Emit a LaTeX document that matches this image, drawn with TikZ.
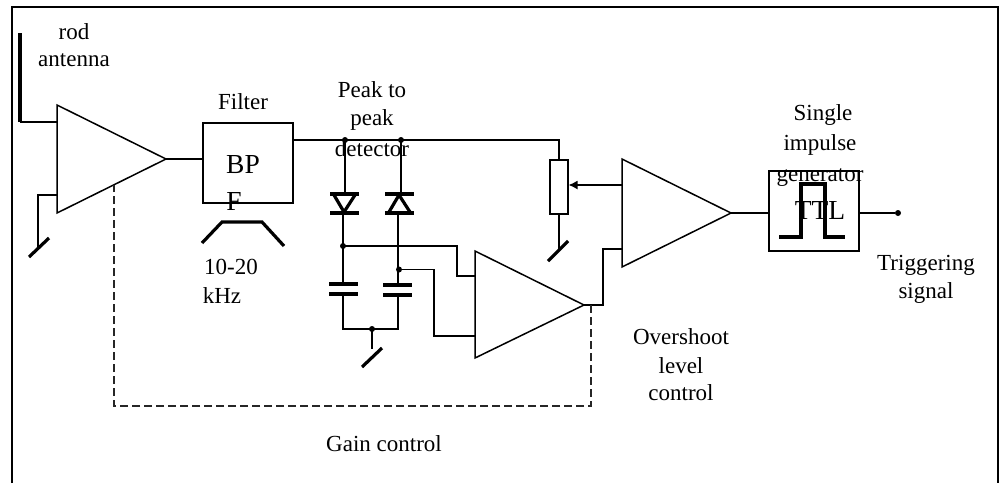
\documentclass[tikz,border=0pt]{standalone}
\usepackage{fontspec}
\setmainfont{Liberation Serif}
\usetikzlibrary{arrows.meta}
\tikzset{
  x=1pt,y=-1pt,
  wire/.style={line width=1.5pt,line join=miter},
  thick wire/.style={line width=3.2pt},
  gainline/.style={line width=1.1pt,dash pattern=on 8pt off 4pt,black!85},
  box/.style={draw,line width=1.5pt,inner sep=0pt,anchor=north west},
  dot/.style={circle,fill=black,inner sep=0pt,minimum size=6pt},
  lbl/.style={inner sep=0pt,font=\fontsize{23}{27}\selectfont,align=center},
  big/.style={inner sep=0pt,font=\fontsize{27.5}{32}\selectfont},
}
\begin{document}
\begin{tikzpicture}
\useasboundingbox (0,0) rectangle (1001,483);
\draw[line width=2pt] (12,483) -- (12,7) -- (998,7) -- (998,483);
% coordinates
\coordinate (a1t) at (57,105); \coordinate (a1b) at (57,213); \coordinate (a1o) at (166,159);
\coordinate (a2t) at (475,251); \coordinate (a2b) at (475,358); \coordinate (a2o) at (584,305);
\coordinate (a3t) at (622,159); \coordinate (a3b) at (622,267); \coordinate (a3o) at (731,213);
\node[box,minimum width=90pt,minimum height=80pt] (bpf) at (202,122) {};
\node[box,minimum width=90pt,minimum height=80pt] (ttl) at (768,170) {};
\node[box,minimum width=18pt,minimum height=54pt] (pot) at (549,159) {};
\node[dot] (j1) at (345,140) {};
\node[dot] (j2) at (401,140) {};
\node[dot] (j3) at (343,246) {};
\node[dot] (j4) at (399,269.5) {};
\node[dot] (j5) at (372,329) {};
\node[dot] (out) at (898,213) {};
% amplifiers
\draw[wire] (a1t) -- (a1o) -- (a1b) -- cycle;
\draw[wire] (a2t) -- (a2o) -- (a2b) -- cycle;
\draw[wire] (a3t) -- (a3o) -- (a3b) -- cycle;
% antenna
\coordinate (ant) at (20,33); \coordinate (antc) at (20,122); \coordinate (a1i) at (57,122);
\draw[thick wire] (ant) -- (antc);
\draw[wire] (antc) -- (a1i);
% grounds
\coordinate (a1g) at (57,195); \coordinate (g1) at (38,248);
\draw[wire] (a1g) -| (g1);
\draw[thick wire] (29,257) -- (49,238);
\draw[wire] (a1o) -- (bpf.west |- a1o);
\draw[wire] (bpf.east |- 0,140) -- (pot.north |- 0,140) -- (pot.north);
\draw[wire] (pot.south) -- (pot.south |- 0,250);
\draw[thick wire] (548,261) -- (568,241);
% filter hump
\draw[thick wire] (202,243) -- (222,222) -- (262,222) -- (284,246);
% diode branch 1
\draw[wire] (j1.center) -- (345,194);
\draw[thick wire] (330,194) -- (359,194);
\draw[thick wire] (330,213) -- (359,213);
\draw[thick wire,line join=miter] (334,195) -- (344,212) -- (355,195);
\draw[wire] (343,213) -- (343,283);
\draw[thick wire] (329,284) -- (358,284);
\draw[thick wire] (329,294) -- (358,294);
\draw[wire] (343,294) -- (343,329) -- (398,329) -- (398,295);
% diode branch 2
\draw[wire] (j2.center) -- (401,194);
\draw[thick wire] (385,194) -- (414,194);
\draw[thick wire] (385,213) -- (414,213);
\draw[thick wire,line join=miter] (389,212) -- (399,195) -- (410,212);
\draw[wire] (398,213) -- (398,285);
\draw[thick wire] (383,285) -- (412,285);
\draw[thick wire] (383,295) -- (412,295);
% detector to amp2
\draw[wire] (j3.center) -- (457,246) -- (457,276) -- (475,276);
\draw[wire] (j4.center) -- (434,269.5) -- (434,336) -- (475,336);
\draw[wire] (j5.center) -- (372,349);
\draw[thick wire] (362,367) -- (382,348);
% amp2 to amp3
\draw[wire] (a2o) -- (603,305) -- (603,249) -- (622,249);
\draw[wire,-{Latex[length=9pt,width=9pt]}] (622,185) -- (pot.east |- 0,185);
\draw[wire] (a3o) -- (ttl.west |- a3o);
\draw[wire] (ttl.east |- out) -- (out);
% pulse
\draw[thick wire] (779,237) -- (801,237) -- (801,184) -- (825,184) -- (825,237) -- (845,237);
% dashed gain control
\draw[gainline] (591,305) -- (591,406) -- (114,406) -- (114,185);
% labels
\node[lbl] (t1) at (74,32) {rod};
\node[lbl] (t2) at (74,60) {antenna};
\node[lbl] (t3) at (243,102) {Filter};
\node[big] (t4) at (243,165) {BP};
\node[big] (t5) at (234,201) {F};
\node[lbl] (t6) at (231,267) {10-20};
\node[lbl] (t7) at (222,296) {kHz};
\node[lbl] (t8) at (372,90) {Peak to};
\node[lbl] (t9) at (372,120) {peak};
\node[lbl] (t10) at (372,149) {detector};
\node[lbl] (t11) at (823,115) {Single};
\node[lbl] (t12) at (820,145) {impulse};
\node[lbl] (t13) at (820,178) {generator};
\node[big] (t14) at (820,210) {TTL};
\node[lbl] (t15) at (926,265) {Triggering};
\node[lbl] (t16) at (926,293) {signal};
\node[lbl] (t17) at (681,337) {Overshoot};
\node[lbl] (t18) at (681,366) {level};
\node[lbl] (t19) at (681,393) {control};
\node[lbl] (t20) at (384,444) {Gain control};
\end{tikzpicture}
\end{document}
